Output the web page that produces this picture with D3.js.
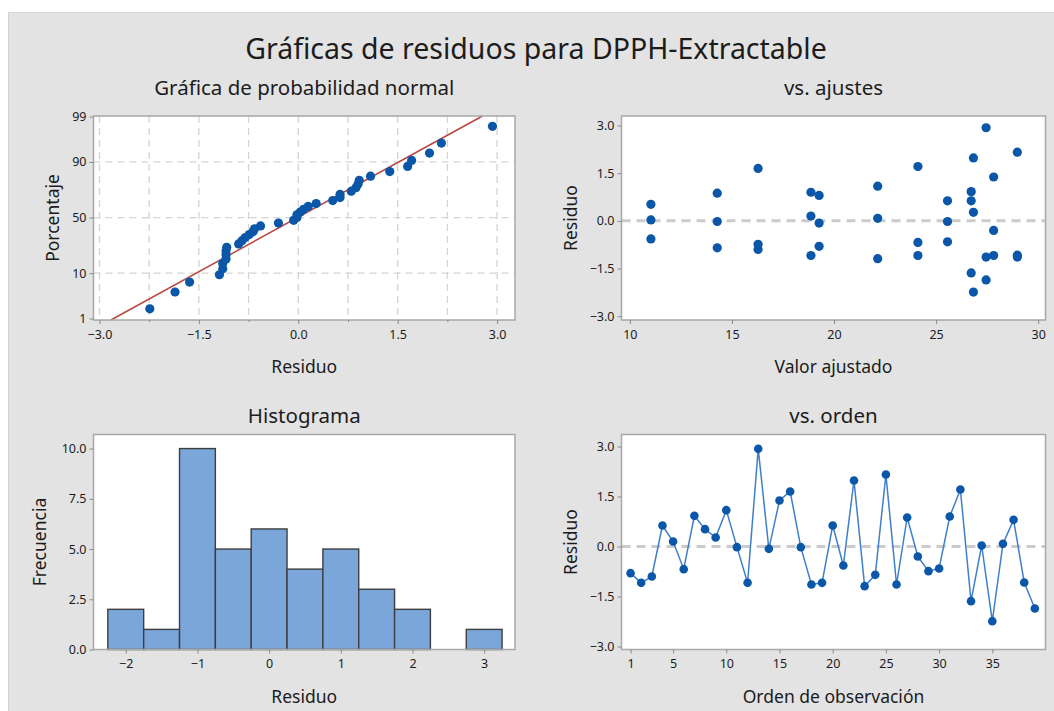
<!DOCTYPE html>
<html><head><meta charset="utf-8">
<script src="https://cdn.jsdelivr.net/npm/d3@7"></script>
<style>
html,body{margin:0;padding:0;background:#fff;}
svg{display:block;font-family:"Noto Sans","Open Sans",sans-serif;}
</style></head>
<body>
<svg id="chart" width="1054" height="711"></svg>
<script>
// ---------- DATA (by observation order) ----------
const residuals = [-0.80,-1.09,-0.90,0.63,0.15,-0.68,0.92,0.52,0.27,1.09,
  -0.02,-1.09,2.93,-0.07,1.38,1.65,-0.02,-1.14,-1.09,0.63,
  -0.57,1.98,-1.19,-0.85,2.16,-1.14,0.87,-0.30,-0.74,-0.66,
  0.90,1.71,-1.64,0.03,-2.24,0.08,0.80,-1.08,-1.86];
const fittedValues = [19.27,27.82,16.28,25.56,18.87,24.11,26.72,11.03,26.83,22.14,
  14.28,18.87,27.45,19.27,27.82,16.28,25.56,27.45,24.11,26.72,
  11.03,26.83,22.14,14.28,28.98,28.98,14.28,27.82,16.28,25.56,
  18.87,24.11,26.72,11.03,26.83,22.14,19.27,28.98,27.45];
const probTicks = [1,10,50,90,99];
const probXTicks = [-3.0,-1.5,0.0,1.5,3.0];
const probXMinor = [-2.25,-0.75,0.75,2.25];
const fitXTicks = [10,15,20,25,30];
const residTicks = [-3.0,-1.5,0.0,1.5,3.0];
const histXTicks = [-2,-1,0,1,2,3];
const histYTicks = [0,2.5,5,7.5,10];
const histThresholds = [-2.25,-1.75,-1.25,-0.75,-0.25,0.25,0.75,1.25,1.75,2.25,2.75,3.25];
const orderTicks = [1,5,10,15,20,25,30,35];

const mainTitle = "Gráficas de residuos para DPPH-Extractable";
const titles = ["Gráfica de probabilidad normal","vs. ajustes","Histograma","vs. orden"];
const xTitles = ["Residuo","Valor ajustado","Residuo","Orden de observación"];
const yTitles = ["Porcentaje","Residuo","Frecuencia","Residuo"];

// ---------- helpers ----------
function probit(p){
  const a=[-3.969683028665376e+01,2.209460984245205e+02,-2.759285104469687e+02,1.383577518672690e+02,-3.066479806614716e+01,2.506628277459239e+00];
  const b=[-5.447609879822406e+01,1.615858368580409e+02,-1.556989798598866e+02,6.680131188771972e+01,-1.328068155288572e+01];
  const c=[-7.784894002430293e-03,-3.223964580411365e-01,-2.400758277161838e+00,-2.549732539343734e+00,4.374664141464968e+00,2.938163982698783e+00];
  const d=[7.784695709041462e-03,3.224671290700398e-01,2.445134137142996e+00,3.754408661907416e+00];
  const pl=0.02425, ph=1-pl; let q,r;
  if(p<pl){q=Math.sqrt(-2*Math.log(p));return (((((c[0]*q+c[1])*q+c[2])*q+c[3])*q+c[4])*q+c[5])/((((d[0]*q+d[1])*q+d[2])*q+d[3])*q+1);}
  if(p<=ph){q=p-0.5;r=q*q;return (((((a[0]*r+a[1])*r+a[2])*r+a[3])*r+a[4])*r+a[5])*q/(((((b[0]*r+b[1])*r+b[2])*r+b[3])*r+b[4])*r+1);}
  q=Math.sqrt(-2*Math.log(1-p));return -(((((c[0]*q+c[1])*q+c[2])*q+c[3])*q+c[4])*q+c[5])/((((d[0]*q+d[1])*q+d[2])*q+d[3])*q+1);
}

const svg = d3.select("#chart");
const BG = "#e3e3e3", FRAME="#a8a8a8", PT="#0a56a8", TXT="#1c1c1c";

svg.append("rect").attr("x",8).attr("y",12).attr("width",1046).attr("height",699).attr("fill",BG);
svg.append("line").attr("x1",8.5).attr("x2",8.5).attr("y1",12).attr("y2",711).attr("stroke","#d2d2d2").attr("stroke-width",1);
svg.append("line").attr("x1",8).attr("x2",1054).attr("y1",12.5).attr("y2",12.5).attr("stroke","#d6d6d6").attr("stroke-width",1);

svg.append("text").attr("x",536).attr("y",59).attr("text-anchor","middle")
  .attr("font-size",28.5).attr("fill",TXT).text(mainTitle);

const panels = [
  {l:93.5,r:515,t:116,b:320},
  {l:621.5,r:1045.5,t:116,b:320},
  {l:93.5,r:515,t:434.5,b:649.5},
  {l:621.5,r:1045.5,t:434.5,b:649.5}
];
const titleY=[95,95,423,423], xtitleY=[373,373,703,703];
const ytitleX=[59,577,46,577];

function framePanel(i){
  const p=panels[i];
  svg.append("rect").attr("x",p.l).attr("y",p.t).attr("width",p.r-p.l).attr("height",p.b-p.t)
    .attr("fill","#fff");
  const cx=(p.l+p.r)/2, cy=(p.t+p.b)/2;
  svg.append("text").attr("x",cx).attr("y",titleY[i]).attr("text-anchor","middle")
    .attr("font-size",20.5).attr("fill",TXT).text(titles[i]);
  svg.append("text").attr("x",cx).attr("y",xtitleY[i]).attr("text-anchor","middle")
    .attr("font-size",17.5).attr("fill",TXT).text(xTitles[i]);
  svg.append("text").attr("transform",`translate(${ytitleX[i]},${cy}) rotate(-90)`)
    .attr("text-anchor","middle").attr("font-size",17.5).attr("fill",TXT).text(yTitles[i]);
}
function borderPanel(i){
  const p=panels[i];
  svg.append("rect").attr("x",p.l).attr("y",p.t).attr("width",p.r-p.l).attr("height",p.b-p.t)
    .attr("fill","none").attr("stroke",FRAME).attr("stroke-width",1.5);
}
function styleAxis(g){
  g.select(".domain").remove();
  g.selectAll(".tick line").attr("stroke","#8a8a8a");
  g.selectAll(".tick text").attr("fill",TXT).attr("font-size",12.5).attr("font-family",'"Noto Sans","Open Sans",sans-serif');
}
function axes(i,x,y,xt,yt,xf,yf){
  const p=panels[i];
  svg.append("g").attr("transform",`translate(0,${p.b})`)
    .call(d3.axisBottom(x).tickValues(xt).tickFormat(xf).tickSize(4).tickSizeOuter(0).tickPadding(6)).call(styleAxis);
  svg.append("g").attr("transform",`translate(${p.l},0)`)
    .call(d3.axisLeft(y).tickValues(yt).tickFormat(yf).tickSize(4).tickSizeOuter(0).tickPadding(3)).call(styleAxis);
}
const f1 = d3.format(".1f");

// ---------- Panel 1: normal probability ----------
(function(){
  const i=0,p=panels[i]; framePanel(i);
  const x=d3.scaleLinear().domain([-3.09,3.27]).range([p.l,p.r]);
  const y=d3.scaleLinear().domain([-2.36,2.34]).range([p.b,p.t]);
  const g=svg.append("g");
  probXTicks.concat(probXMinor).forEach(v=>{
    g.append("line").attr("x1",x(v)).attr("x2",x(v)).attr("y1",p.t).attr("y2",p.b)
      .attr("stroke","#d4d4d4").attr("stroke-width",1.3).attr("stroke-dasharray","7,5");
  });
  probTicks.filter(v=>v>1&&v<99).forEach(v=>{
    g.append("line").attr("x1",p.l).attr("x2",p.r).attr("y1",y(probit(v/100))).attr("y2",y(probit(v/100)))
      .attr("stroke","#d4d4d4").attr("stroke-width",1.3).attr("stroke-dasharray","7,5");
  });
  const n=residuals.length;
  const sorted=residuals.slice().sort(d3.ascending);
  const mu=d3.mean(residuals), sd=d3.deviation(residuals);
  const zlo=y.domain()[0], zhi=y.domain()[1];
  g.append("line").attr("x1",x(mu+sd*zlo)).attr("y1",y(zlo)).attr("x2",x(mu+sd*zhi)).attr("y2",y(zhi))
    .attr("stroke","#b9473f").attr("stroke-width",1.5);
  g.selectAll("circle").data(sorted).join("circle")
    .attr("cx",d=>x(d)).attr("cy",(d,k)=>y(probit((k+1-0.3)/(n+0.4)))).attr("r",4.6).attr("fill",PT);
  borderPanel(i);
  axes(i,x,y,probXTicks,probTicks.map(v=>probit(v/100)),f1,(d,k)=>probTicks[k]);
  svg.append("g").attr("transform",`translate(0,${p.b})`)
    .call(d3.axisBottom(x).tickValues(probXMinor).tickFormat("").tickSize(2).tickSizeOuter(0)).call(styleAxis);
})();

// ---------- Panel 2: vs fits ----------
(function(){
  const i=1,p=panels[i]; framePanel(i);
  const x=d3.scaleLinear().domain([9.59,30.36]).range([p.l,p.r]);
  const y=d3.scaleLinear().domain([-3.12,3.30]).range([p.b,p.t]);
  svg.append("line").attr("x1",p.l).attr("x2",p.r).attr("y1",y(0)).attr("y2",y(0))
    .attr("stroke","#cbcbcb").attr("stroke-width",3).attr("stroke-dasharray","9,6");
  svg.append("g").selectAll("circle").data(residuals).join("circle")
    .attr("cx",(d,k)=>x(fittedValues[k])).attr("cy",d=>y(d)).attr("r",4.6).attr("fill",PT);
  borderPanel(i);
  axes(i,x,y,fitXTicks,residTicks,d3.format("d"),f1);
})();

// ---------- Panel 3: histogram ----------
(function(){
  const i=2,p=panels[i]; framePanel(i);
  const x=d3.scaleLinear().domain([-2.45,3.43]).range([p.l,p.r]);
  const y=d3.scaleLinear().domain([0,10.7]).range([p.b,p.t]);
  const bins=d3.bin().domain([histThresholds[0],histThresholds[histThresholds.length-1]])
    .thresholds(histThresholds.slice(1,-1))(residuals);
  svg.append("g").selectAll("rect").data(bins.filter(b=>b.length>0)).join("rect")
    .attr("x",b=>x(b.x0)).attr("width",b=>x(b.x1)-x(b.x0))
    .attr("y",b=>y(b.length)).attr("height",b=>y(0)-y(b.length))
    .attr("fill","#7ba6da").attr("stroke","#3e3e3e").attr("stroke-width",1.4);
  borderPanel(i);
  axes(i,x,y,histXTicks,histYTicks,d3.format("d"),f1);
})();

// ---------- Panel 4: vs order ----------
(function(){
  const i=3,p=panels[i]; framePanel(i);
  const x=d3.scaleLinear().domain([0.15,40.0]).range([p.l,p.r]);
  const y=d3.scaleLinear().domain([-3.09,3.36]).range([p.b,p.t]);
  svg.append("line").attr("x1",p.l).attr("x2",p.r).attr("y1",y(0)).attr("y2",y(0))
    .attr("stroke","#cbcbcb").attr("stroke-width",3).attr("stroke-dasharray","9,6");
  svg.append("path").datum(residuals)
    .attr("d",d3.line().x((d,k)=>x(k+1)).y(d=>y(d)))
    .attr("fill","none").attr("stroke","#3f7fcb").attr("stroke-width",1.5);
  svg.append("g").selectAll("circle").data(residuals).join("circle")
    .attr("cx",(d,k)=>x(k+1)).attr("cy",d=>y(d)).attr("r",4.3).attr("fill",PT);
  borderPanel(i);
  axes(i,x,y,orderTicks,residTicks,d3.format("d"),f1);
})();
</script>
</body></html>
